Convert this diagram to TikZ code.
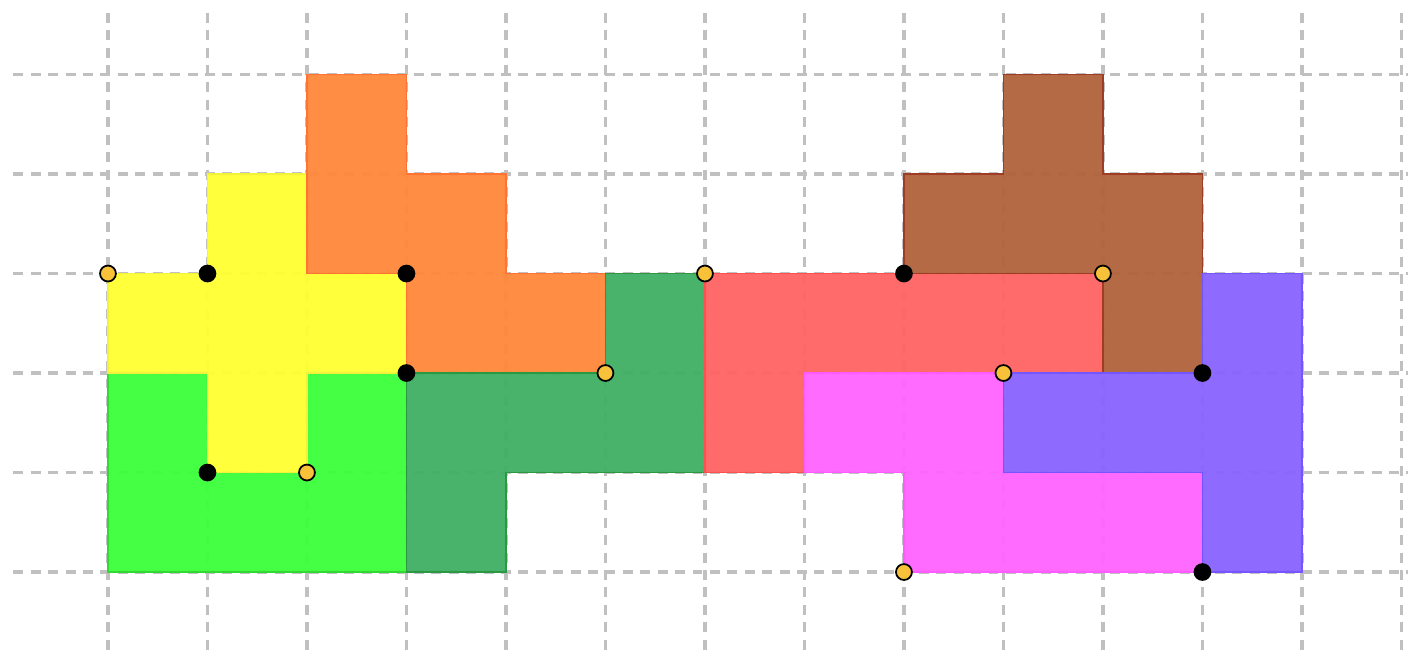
\documentclass[tikz,border=0pt]{standalone}
\usepackage{tikz}

\definecolor{gridgray}{RGB}{192,192,192}
\definecolor{pyellow}{RGB}{255,255,51}
\definecolor{pgreen}{RGB}{60,255,60}
\definecolor{porange}{RGB}{255,136,60}
\definecolor{pdkgreen}{RGB}{66,176,102}
\definecolor{pred}{RGB}{255,100,100}
\definecolor{pbrown}{RGB}{178,100,62}
\definecolor{pmagenta}{RGB}{255,100,255}
\definecolor{ppurple}{RGB}{138,100,255}
\definecolor{pgold}{RGB}{247,194,58}

\tikzset{every picture/.style={line width=0.75pt}}
\tikzset{
  gridline/.style={draw=gridgray, line width=0.9pt, dash pattern=on 0.1cm off 0.075cm},
  piece/.style={fill opacity=0.96, line width=0.45pt},
  blackdot/.style={fill=black, draw=black, line width=0.5pt},
  golddot/.style={fill=pgold, draw=black, line width=0.5pt}
}

\begin{document}
\begin{tikzpicture}[x=1cm,y=1cm]
\useasboundingbox (-1.085,-0.814) rectangle (13.066,5.749);

%Grid: vertical lines
\draw[gridline] (0,5.62) -- (0,-0.82) ;
\draw[gridline] (1,5.62) -- (1,-0.82) ;
\draw[gridline] (2,5.62) -- (2,-0.82) ;
\draw[gridline] (3,5.62) -- (3,-0.82) ;
\draw[gridline] (4,5.62) -- (4,-0.82) ;
\draw[gridline] (5,5.62) -- (5,-0.82) ;
\draw[gridline] (6,5.62) -- (6,-0.82) ;
\draw[gridline] (7,5.62) -- (7,-0.82) ;
\draw[gridline] (8,5.62) -- (8,-0.82) ;
\draw[gridline] (9,5.62) -- (9,-0.82) ;
\draw[gridline] (10,5.62) -- (10,-0.82) ;
\draw[gridline] (11,5.62) -- (11,-0.82) ;
\draw[gridline] (12,5.62) -- (12,-0.82) ;
\draw[gridline] (13,5.62) -- (13,-0.82) ;
%Grid: horizontal lines
\draw[gridline] (-0.95,0) -- (13.1,0) ;
\draw[gridline] (-0.95,1) -- (13.1,1) ;
\draw[gridline] (-0.95,2) -- (13.1,2) ;
\draw[gridline] (-0.95,3) -- (13.1,3) ;
\draw[gridline] (-0.95,4) -- (13.1,4) ;
\draw[gridline] (-0.95,5) -- (13.1,5) ;

%Shape: Polygon (light green)
\draw[piece, fill=pgreen, draw=pgreen!85!black] (0,0) -- (3,0) -- (3,2) -- (2,2) -- (2,1) -- (1,1) -- (1,2) -- (0,2) -- cycle ;
%Shape: Polygon (yellow)
\draw[piece, fill=pyellow, draw=pyellow!90!gray] (0,2) -- (0,3) -- (1,3) -- (1,4) -- (2,4) -- (2,3) -- (3,3) -- (3,2) -- (2,2) -- (2,1) -- (1,1) -- (1,2) -- cycle ;
%Shape: Polygon (orange)
\draw[piece, fill=porange, draw=porange!85!red] (2,5) -- (3,5) -- (3,4) -- (4,4) -- (4,3) -- (5,3) -- (5,2) -- (3,2) -- (3,3) -- (2,3) -- cycle ;
%Shape: Polygon (dark green)
\draw[piece, fill=pdkgreen, draw=pdkgreen!80!green!80!black] (3,0) -- (4,0) -- (4,1) -- (6,1) -- (6,3) -- (5,3) -- (5,2) -- (3,2) -- cycle ;
%Shape: Polygon (red)
\draw[piece, fill=pred, draw=pred!80!red] (6,1) -- (7,1) -- (7,2) -- (10,2) -- (10,3) -- (6,3) -- cycle ;
%Shape: Polygon (brown)
\draw[piece, fill=pbrown, draw=pbrown!75!red!80!black] (9,5) -- (10,5) -- (10,4) -- (11,4) -- (11,2) -- (10,2) -- (10,3) -- (8,3) -- (8,4) -- (9,4) -- cycle ;
%Shape: Polygon (magenta)
\draw[piece, fill=pmagenta, draw=pmagenta!90!magenta] (7,1) -- (7,2) -- (9,2) -- (9,1) -- (11,1) -- (11,0) -- (8,0) -- (8,1) -- cycle ;
%Shape: Polygon (purple)
\draw[piece, fill=ppurple, draw=ppurple!85!blue] (11,0) -- (12,0) -- (12,3) -- (11,3) -- (11,2) -- (9,2) -- (9,1) -- (11,1) -- cycle ;

%Points: black
\draw[blackdot] (1,3) circle (0.08) ;
\draw[blackdot] (3,3) circle (0.08) ;
\draw[blackdot] (3,2) circle (0.08) ;
\draw[blackdot] (1,1) circle (0.08) ;
\draw[blackdot] (8,3) circle (0.08) ;
\draw[blackdot] (11,2) circle (0.08) ;
\draw[blackdot] (11,0) circle (0.08) ;
%Points: gold
\draw[golddot] (0,3) circle (0.08) ;
\draw[golddot] (2,1) circle (0.08) ;
\draw[golddot] (5,2) circle (0.08) ;
\draw[golddot] (6,3) circle (0.08) ;
\draw[golddot] (10,3) circle (0.08) ;
\draw[golddot] (9,2) circle (0.08) ;
\draw[golddot] (8,0) circle (0.08) ;
\end{tikzpicture}
\end{document}
